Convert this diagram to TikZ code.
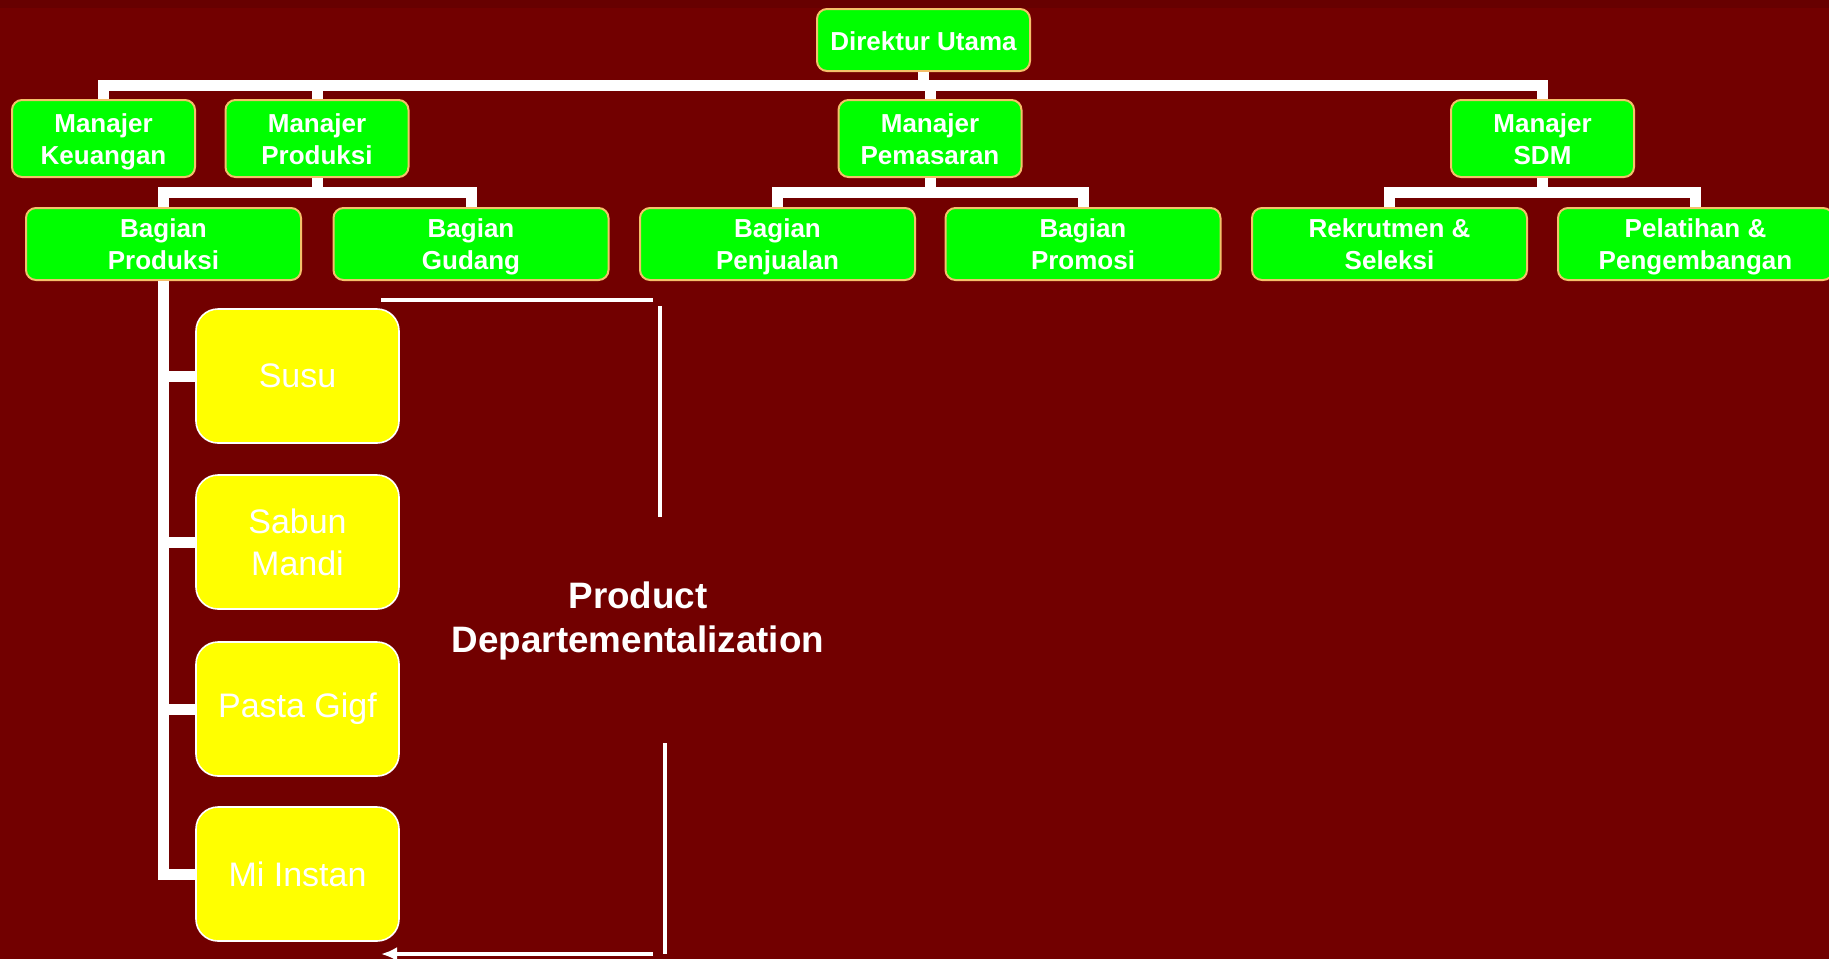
\documentclass[tikz,border=0pt]{standalone}
\usepackage{fontspec}
\setmainfont{Liberation Sans}
\usetikzlibrary{arrows.meta}

\definecolor{bgred}{HTML}{720000}
\definecolor{boxgreen}{HTML}{00FF00}
\definecolor{boxedge}{HTML}{F5C06A}
\definecolor{prodyellow}{HTML}{FFFF00}

\newcommand{\upstrut}[1][12.7pt]{\rule{0pt}{#1}}
\newcommand{\downstrut}{\rule[-2.73pt]{0pt}{0pt}}

\tikzset{
  unit/.style={draw=boxedge,line width=1pt,fill=boxgreen,rounded corners=5pt,text=white,
    align=center,inner sep=0pt,font=\bfseries\fontsize{13}{16}\selectfont},
  mgr/.style={unit,minimum width=91.5pt,minimum height=38.5pt},
  dept/.style={unit,minimum width=137.5pt,minimum height=36pt},
  prodbox/.style={draw=white,line width=0.8pt,fill=prodyellow,rounded corners=11pt,text=white,
    align=center,inner sep=0pt,minimum width=101.5pt,minimum height=67pt,
    font=\fontsize{17}{21}\selectfont},
  conn/.style={draw=white,line width=5.5pt},
  bracket/.style={draw=white,line width=2pt},
}

\begin{document}
\begin{tikzpicture}[x=0.5pt,y=-0.5pt]
    \fill[bgred] (0,0) rectangle (1829,959);
    \useasboundingbox (0,0) rectangle (1829,959);
    \fill[bgred!90!black] (0,0) rectangle (1829,8);

    % top levels
    \node[unit,minimum width=106.5pt,minimum height=31pt] (dir) at (923.5,40) {\upstrut[13.3pt]Direktur Utama\downstrut};
    \node[mgr] (keu) at (103.5,138.5) {\upstrut Manajer\\Keuangan\downstrut};
    \node[mgr] (mprod) at (317,138.5) {\upstrut Manajer\\Produksi\downstrut};
    \node[mgr] (mpem) at (930,138.5) {\upstrut Manajer\\Pemasaran\downstrut};
    \node[mgr] (msdm) at (1542.5,138.5) {\upstrut Manajer\\SDM\downstrut};

    \node[dept] (bprod) at (163.5,244) {\upstrut Bagian\\Produksi\downstrut};
    \node[dept] (gudang) at (471,244) {\upstrut Bagian\\Gudang\downstrut};
    \node[dept] (jual) at (777.5,244) {\upstrut Bagian\\Penjualan\downstrut};
    \node[dept] (promo) at (1083,244) {\upstrut Bagian\\Promosi\downstrut};
    \node[dept] (rekrut) at (1389.5,244) {\upstrut Rekrutmen \&\\Seleksi\downstrut};
    \node[dept] (latih) at (1695.5,244) {\upstrut Pelatihan \&\\Pengembangan\downstrut};

    % products
    \node[prodbox] (susu) at (297.5,376) {Susu};
    \node[prodbox] (sabun) at (297.5,542) {Sabun\\Mandi};
    \node[prodbox] (pasta) at (297.5,709) {Pasta Gigf};
    \node[prodbox] (mi) at (297.5,874) {Mi Instan};

    \node[text=white,align=center,inner sep=0pt,font=\bfseries\fontsize{18.4}{22}\selectfont]
      (pdlabel) at (638,621) {Product\\Departementalization};

    \coordinate (topbar) at (0,85);
    \coordinate (midbar) at (0,192);

    \foreach \m in {keu,mprod,mpem,msdm}
      \draw[conn] (dir.south) -- (dir.south |- topbar) -| (\m.north);
    \foreach \d in {bprod,gudang}
      \draw[conn] (mprod.south) -- (mprod.south |- midbar) -| (\d.north);
    \foreach \d in {jual,promo}
      \draw[conn] (mpem.south) -- (mpem.south |- midbar) -| (\d.north);
    \foreach \d in {rekrut,latih}
      \draw[conn] (msdm.south) -- (msdm.south |- midbar) -| (\d.north);
    \foreach \p in {susu,sabun,pasta,mi}
      \draw[conn] (bprod.south) |- (\p.west);

    % bracket round the label
    \coordinate (brA) at (381,300);
    \coordinate (brB) at (653,300);
    \coordinate (brC) at (660,306);
    \coordinate (brD) at (660,517);
    \coordinate (brE) at (665,743);
    \coordinate (brF) at (665,954);
    \coordinate (brG) at (653,954);
    \coordinate (brH) at (381,954);
    \draw[bracket] (brB) -- (brA);
    \draw[bracket] (brC) -- (brD);
    \draw[bracket] (brE) -- (brF);
    \draw[bracket,-{Latex[length=8pt,width=7pt]}] (brG) -- (brH);
\end{tikzpicture}
\end{document}
